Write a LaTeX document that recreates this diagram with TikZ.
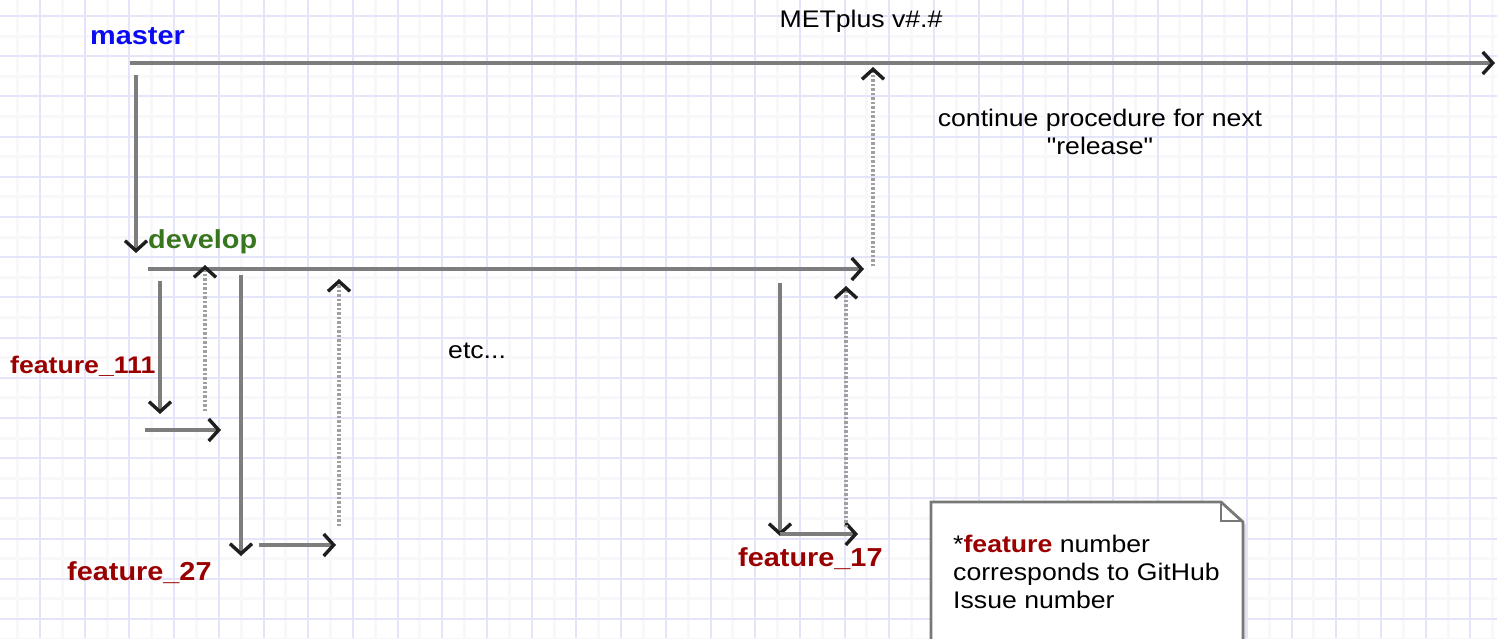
\documentclass[tikz,border=0pt]{standalone}
\usepackage{fontspec}
\setmainfont{Liberation Sans}[FakeStretch=1.11]
\newfontfamily\plainq{Liberation Sans}[FakeStretch=1.11]
\usetikzlibrary{arrows.meta}
\definecolor{gridmaj}{RGB}{228,228,250}
\definecolor{gridmin}{RGB}{248,248,251}
\definecolor{linegray}{RGB}{125,125,125}
\definecolor{dotgray}{RGB}{160,160,160}
\definecolor{featred}{RGB}{155,0,0}
\definecolor{masterblue}{RGB}{10,10,245}
\definecolor{devgreen}{RGB}{56,118,29}
\definecolor{headcol}{RGB}{30,30,30}
\definecolor{notegray}{RGB}{120,120,120}
\begin{document}
\begin{tikzpicture}[x=1pt,y=-1pt,
  barb/.style={-{Straight Barb[length=10pt,width=22pt,line width=3.4pt,color=headcol]}},
  flow/.style={draw=linegray, line width=3.6pt, barb},
  merge/.style={draw=dotgray, line width=3.4pt, dash pattern=on 2.5pt off 2pt, barb},
  lbl/.style={inner sep=0pt, anchor=base west, font=\fontsize{26}{30}\selectfont\bfseries},
  txt/.style={inner sep=0pt, font=\fontsize{24}{28}\selectfont}]
\useasboundingbox (0,0) rectangle (1497,638);
\fill[white] (0,0) rectangle (1497,638);
\begin{scope}
\clip (0,0) rectangle (1497,638);
\foreach \i in {0,...,33} {
  \draw[gridmin, line width=3pt] ({40+44.7*\i-22.35},0) -- ++(0,638);
}
\foreach \j in {0,...,16} {
  \draw[gridmin, line width=3pt] (0,{16+40.2*\j-20.1}) -- ++(1497,0);
}
\foreach \i in {0,...,33} {
  \draw[gridmaj, line width=2pt] ({40+44.7*\i},0) -- ++(0,638);
}
\foreach \j in {0,...,16} {
  \draw[gridmaj, line width=2pt] (0,{16+40.2*\j}) -- ++(1497,0);
}
\end{scope}

% coordinates
\coordinate (m0) at (130,63);
\coordinate (m1) at (1495,63);
\coordinate (md0) at (136,75);
\coordinate (md1) at (136,253);
\coordinate (d0) at (148,269);
\coordinate (d1) at (864,269);
\coordinate (r0) at (873,266);
\coordinate (r1) at (873,67);
\coordinate (a0) at (160,281);
\coordinate (a1) at (160,414);
\coordinate (a2) at (145,430);
\coordinate (a3) at (221,430);
\coordinate (a4) at (205,411);
\coordinate (a5) at (205,265);
\coordinate (b0) at (241,275);
\coordinate (b1) at (241,556);
\coordinate (b2) at (259,545);
\coordinate (b3) at (336,545);
\coordinate (b4) at (339,526);
\coordinate (b5) at (339,279);
\coordinate (c0) at (780,283);
\coordinate (c1) at (780,536);
\coordinate (c2) at (780,534);
\coordinate (c3) at (858,534);
\coordinate (c4) at (846,527);
\coordinate (c5) at (846,286);

% connectors
\draw[flow] (m0) -- (m1);
\draw[flow] (md0) -- (md1);
\draw[flow] (d0) -- (d1);
\draw[merge] (r0) -- (r1);
\draw[flow] (a0) -- (a1);
\draw[flow] (a2) -- (a3);
\draw[merge] (a4) -- (a5);
\draw[flow] (b0) -- (b1);
\draw[flow] (b2) -- (b3);
\draw[merge] (b4) -- (b5);
\draw[flow] (c0) -- (c1);
\draw[flow] (c2) -- (c3);
\draw[merge] (c4) -- (c5);

% labels
\node[lbl, text=masterblue] (master) at (90,44) {master};
\node[lbl, text=devgreen] (develop) at (148,248) {develop};
\node[lbl, text=featred, font=\fontsize{24}{28}\selectfont\bfseries] (f111) at (10,373) {feature\_111};
\node[lbl, text=featred] (f27) at (67,580) {feature\_27};
\node[lbl, text=featred] (f17) at (738,566) {feature\_17};
\node[txt, anchor=base] (metplus) at (861,27) {METplus v\#.\#};
\node[txt, anchor=base] (cont1) at (1100,126) {continue procedure for next};
\node[txt, anchor=base] (cont2) at (1100,154) {\plainq "release"};
\node[txt, anchor=base west] (etc) at (448,358) {etc...};

% note
\fill[black!12] (934,705) -- (934,505) -- (1224,505) -- (1246,525) -- (1246,705) -- cycle;
\draw[fill=white, draw=notegray, line width=2.8pt, line join=miter]
  (931,702) -- (931,502) -- (1221,502) -- (1243,522) -- (1243,702);
\draw[draw=notegray, line width=2pt] (1221,502) -- (1221,521) -- (1243,521);
\node[txt, anchor=base west] (note1) at (953,552) {*\textcolor{featred}{\bfseries feature} number};
\node[txt, anchor=base west] (note2) at (953,580) {corresponds to GitHub};
\node[txt, anchor=base west] (note3) at (953,608) {Issue number};
\end{tikzpicture}
\end{document}
